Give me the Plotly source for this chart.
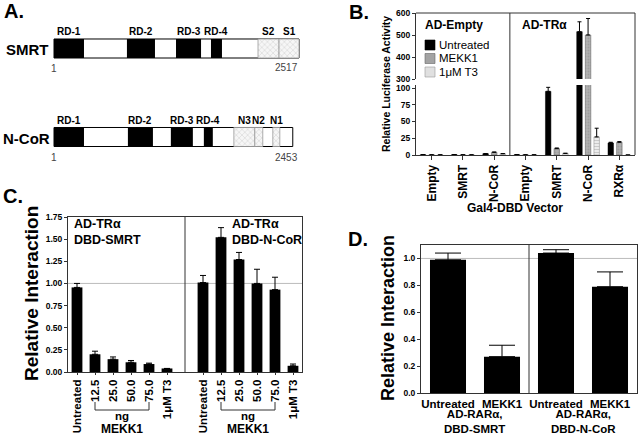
import plotly.graph_objects as go

# ---------------- DATA ----------------
# Panel A: protein domain maps (residue numbers)
smrt_len = 2517
ncor_len = 2453
rd_names = ["RD-1", "RD-2", "RD-3", "RD-4"]
smrt_rd_start = [1, 750, 1254, 1613]
smrt_rd_end = [309, 1038, 1511, 1726]
smrt_s_names = ["S2", "S1"]
smrt_s_start = [2096, 2312]
smrt_s_end = [2312, 2517]
ncor_rd_start = [1, 760, 1201, 1540]
ncor_rd_end = [309, 1017, 1427, 1632]
ncor_n_names = ["N3", "N2", "N1"]
ncor_n_start = [1848, 2063, 2248]
ncor_n_end = [2063, 2145, 2320]

# Panel B: relative luciferase activity
b_categories = ["Empty", "SMRT", "N-CoR", "Empty", "SMRT", "N-CoR", "RXRα"]
b_untreated = [0.5, 0.6, 2.0, 0.5, 95, 515, 18]
b_untreated_err = [0, 0, 0, 0, 6, 45, 1]
b_mekk1 = [0.3, 0.3, 4.0, 0.3, 9.5, 500, 19]
b_mekk1_err = [0, 0, 0.5, 0, 1, 75, 1]
b_t3 = [0.3, 0.3, 2.0, 0.3, 2.5, 27, 0]
b_t3_err = [0, 0, 0, 0, 0, 13, 0]
b_series = ["Untreated", "MEKK1", "1μM T3"]

# Panel C: relative interaction (AD-TRα)
c_labels = ["Untreated", "12.5", "25.0", "50.0", "75.0", "1μM T3"]
c_smrt = [0.955, 0.20, 0.145, 0.11, 0.09, 0.04]
c_smrt_err = [0.045, 0.035, 0.025, 0.02, 0.01, 0.0]
c_ncor = [1.01, 1.52, 1.27, 1.00, 0.93, 0.07]
c_ncor_err = [0.08, 0.11, 0.08, 0.16, 0.14, 0.02]

# Panel D: relative interaction (AD-RARα)
d_labels = ["Untreated", "MEKK1", "Untreated", "MEKK1"]
d_values = [0.99, 0.27, 1.04, 0.79]
d_err = [0.05, 0.085, 0.025, 0.11]
d_groups = ["AD-RARα,<br>DBD-SMRT", "AD-RARα,<br>DBD-N-CoR"]

# ---------------- HELPERS ----------------
W, H = 638, 435
def px(x):
    return x / W
def py(y):
    return 1 - y / H
FONT = "Arial, Liberation Sans, sans-serif"

def f(size, bold=True, color="black"):
    return dict(family=FONT, size=size, color=color, weight="bold" if bold else "normal")

fig = go.Figure()
annotations = []
shapes = []

def ann(text, x, y, size, bold=True, xanchor="center", yanchor="middle",
        xref="paper", yref="paper", angle=0, color="black", **kw):
    d = dict(text=text, x=x, y=y, xref=xref, yref=yref, showarrow=False,
             xanchor=xanchor, yanchor=yanchor, font=f(size, bold, color),
             textangle=angle)
    d.update(kw)
    annotations.append(d)

# ---------------- PANEL A ----------------
BH = 0.215
fig.add_trace(go.Bar(orientation="h", y=[1, 0], x=[smrt_len - 1, ncor_len - 1], base=[1, 1],
                     width=BH, marker=dict(color="white", line=dict(color="black", width=1)),
                     xaxis="x", yaxis="y", showlegend=False, hoverinfo="skip"))
rd_start = smrt_rd_start + ncor_rd_start
rd_end = smrt_rd_end + ncor_rd_end
fig.add_trace(go.Bar(orientation="h", y=[1] * 4 + [0] * 4,
                     x=[e - s for s, e in zip(rd_start, rd_end)], base=rd_start,
                     width=BH, marker=dict(color="black", line=dict(width=0)),
                     xaxis="x", yaxis="y", showlegend=False, hoverinfo="skip"))
h_start = smrt_s_start + ncor_n_start
h_end = smrt_s_end + ncor_n_end
fig.add_trace(go.Bar(orientation="h", y=[1] * 2 + [0] * 3,
                     x=[e - s for s, e in zip(h_start, h_end)], base=h_start,
                     width=BH,
                     marker=dict(color="#f2f2f2",
                                 pattern=dict(shape="x", fgcolor="#aaaaaa", bgcolor="#f6f6f6",
                                              size=4, solidity=0.25),
                                 line=dict(color="#999999", width=0.8)),
                     xaxis="x", yaxis="y", showlegend=False, hoverinfo="skip"))

for names, st, en, row in [(rd_names, smrt_rd_start, smrt_rd_end, 1),
                           (smrt_s_names, smrt_s_start, smrt_s_end, 1),
                           (rd_names, ncor_rd_start, ncor_rd_end, 0),
                           (ncor_n_names, ncor_n_start, ncor_n_end, 0)]:
    for n, s, e in zip(names, st, en):
        ann(n, (s + e) / 2, row, 10, xref="x", yref="y", yshift=17)

ann("SMRT", px(51), py(49), 15, xanchor="right")
ann("N-CoR", px(52), py(138), 15, xanchor="right")
ann("1", 1, 1, 10, bold=False, xref="x", yref="y", yshift=-20, color="#444")
ann("1", 1, 0, 10, bold=False, xref="x", yref="y", yshift=-20, color="#444")
ann(str(smrt_len), px(300), py(68), 10, bold=False, xanchor="right", color="#444")
ann(str(ncor_len), px(300), py(157), 10, bold=False, xanchor="right", color="#444")

# ---------------- PANEL B ----------------
bx = list(range(len(b_categories)))
bw = 0.175
b_offsets = [-0.3625, -0.0875, 0.1875]
b_styles = [
    dict(color="black", line=dict(color="black", width=0.5)),
    dict(color="#a3a3a3", pattern=dict(shape=".", fgcolor="#8a8a8a", bgcolor="#b0b0b0", size=3, solidity=0.3),
         line=dict(color="#666", width=0.6)),
    dict(color="#e8e8e8", pattern=dict(shape="-", fgcolor="#a8a8a8", bgcolor="#ececec", size=3, solidity=0.35),
         line=dict(color="#999", width=0.6)),
]
b_vals = [b_untreated, b_mekk1, b_t3]
b_errs = [b_untreated_err, b_mekk1_err, b_t3_err]
for ya in ["y2", "y3"]:
    for name, vals, errs, off, sty in zip(b_series, b_vals, b_errs, b_offsets, b_styles):
        fig.add_trace(go.Bar(x=bx, y=vals, name=name, width=bw, offset=off, marker=sty,
                             error_y=dict(type="data", array=errs, arrayminus=[0] * len(errs),
                                          symmetric=False, color="black", thickness=1, width=2,
                                          visible=True),
                             xaxis="x2", yaxis=ya, showlegend=False, hoverinfo="skip"))

# frame & divider
shapes.append(dict(type="line", xref="x2 domain", yref="paper", x0=0, x1=1, y0=py(13), y1=py(13),
                   line=dict(color="#333", width=1)))
shapes.append(dict(type="line", xref="x2 domain", yref="paper", x0=1, x1=1, y0=py(13), y1=py(155),
                   line=dict(color="#333", width=1)))
shapes.append(dict(type="line", xref="x2", yref="paper", x0=2.5, x1=2.5, y0=py(13), y1=py(155),
                   line=dict(color="#333", width=1)))
ann("AD-Empty", px(423), py(25), 12, xanchor="left")
ann("AD-TRα", px(520), py(25), 12, xanchor="left")
# legend
leg_fill = ["black", "#a3a3a3", "#e0e0e0"]
leg_line = ["black", "#666", "#999"]
for i, (name, fc, lc) in enumerate(zip(b_series, leg_fill, leg_line)):
    yc = 45 + i * 13.5
    shapes.append(dict(type="rect", xref="paper", yref="paper", x0=px(425), x1=px(435),
                       y0=py(yc - 5), y1=py(yc + 5), fillcolor=fc, line=dict(color=lc, width=0.6)))
    ann(name, px(437), py(yc), 11.5, bold=False, xanchor="left")
ann("Relative Luciferase Activity", px(386), py(84), 10.5, angle=-90)
ann("Gal4-DBD Vector", px(515), py(208), 12)

# ---------------- PANEL C ----------------
cx_left = list(range(len(c_labels)))
cx_right = [i + len(c_labels) + 1 for i in range(len(c_labels))]
for xs, vals, errs in [(cx_left, c_smrt, c_smrt_err), (cx_right, c_ncor, c_ncor_err)]:
    fig.add_trace(go.Bar(x=xs, y=vals, width=0.6, marker=dict(color="black", line=dict(width=0)),
                         error_y=dict(type="data", array=errs, arrayminus=[0] * len(errs),
                                      symmetric=False, color="black", thickness=1, width=3),
                         xaxis="x3", yaxis="y4", showlegend=False, hoverinfo="skip"))
shapes.append(dict(type="line", xref="x3 domain", yref="y4", x0=0, x1=1, y0=1, y1=1,
                   line=dict(color="#bbbbbb", width=1), layer="below"))
shapes.append(dict(type="line", xref="x3", yref="y4 domain", x0=6, x1=6, y0=0, y1=1,
                   line=dict(color="#333", width=1)))
for xs in [cx_left, cx_right]:
    a, b = xs[1], xs[4]
    shapes.append(dict(type="path", xref="x3", yref="paper",
                       path=f"M {a},{py(402)} L {a},{py(410)} L {b},{py(410)} L {b},{py(402)}",
                       line=dict(color="#333", width=1)))
    ann("ng", (a + b) / 2, py(415.5), 11.5, xref="x3")
    ann("MEKK1", (a + b) / 2, py(428.5), 12, xref="x3")
ann("AD-TRα<br>DBD-SMRT", px(72), py(232), 12.5, xanchor="left", align="left")
ann("AD-TRα<br>DBD-N-CoR", px(230), py(232), 12.5, xanchor="left", align="left")
ann("Relative Interaction", px(31), py(294), 19, angle=-90)

# ---------------- PANEL D ----------------
dx = list(range(len(d_labels)))
fig.add_trace(go.Bar(x=dx, y=d_values, width=0.667, marker=dict(color="black", line=dict(width=0)),
                     error_y=dict(type="data", array=d_err, arrayminus=[0] * len(d_err),
                                  symmetric=False, color="black", thickness=1, width=13),
                     xaxis="x4", yaxis="y5", showlegend=False, hoverinfo="skip"))
shapes.append(dict(type="line", xref="x4 domain", yref="y5", x0=0, x1=1, y0=1, y1=1,
                   line=dict(color="#bbbbbb", width=1), layer="below"))
shapes.append(dict(type="line", xref="x4", yref="y5 domain", x0=1.5, x1=1.5, y0=0, y1=1,
                   line=dict(color="#333", width=1)))
for i, g in enumerate(d_groups):
    ann(g, 2 * i + 0.5, py(421), 11.5, xref="x4")
ann("Relative Interaction", px(388), py(318), 18, angle=-90)

# panel letters
ann("A.", px(2), py(11), 20, xanchor="left")
ann("B.", px(347), py(12), 20, xanchor="left")
ann("C.", px(1), py(196), 20, xanchor="left")
ann("D.", px(346), py(239), 20, xanchor="left")

# ---------------- LAYOUT ----------------
hidden = dict(showgrid=False, zeroline=False, showticklabels=False, showline=False, ticks="",
              automargin=False, fixedrange=True)
yt = dict(showgrid=False, zeroline=False, showline=True, linecolor="#333", linewidth=1,
          ticks="outside", ticklen=3, tickcolor="#333", tickfont=f(8.5), automargin=False)

fig.update_layout(
    width=W, height=H, margin=dict(l=0, r=0, t=0, b=0),
    paper_bgcolor="white", plot_bgcolor="white",
    barmode="overlay", showlegend=False,
    font=dict(family=FONT, color="black"),
    xaxis=dict(domain=[px(44), px(309)], range=[-101.7, 2619.7], anchor="y", **hidden),
    yaxis=dict(domain=[py(163.55), py(21.95)], range=[-0.3, 1.3], anchor="x", **hidden),
    # Panel B
    xaxis2=dict(domain=[px(416), px(635)], range=[-0.5, 6.5], anchor="y2",
                tickmode="array", tickvals=bx, ticktext=b_categories, tickangle=-90,
                showgrid=False, zeroline=False, showline=True, linecolor="#333", linewidth=1,
                ticks="outside", ticklen=4, tickcolor="#333", tickfont=f(12), automargin=False),
    yaxis2=dict(domain=[py(155), py(85)], range=[0, 104.5], anchor="x2",
                tickmode="array", tickvals=[0, 25, 50, 75, 100], **yt),
    yaxis3=dict(domain=[py(79), py(13)], range=[300, 600], anchor="x2",
                tickmode="array", tickvals=[300, 400, 500, 600], **yt),
    # Panel C
    xaxis3=dict(domain=[px(68), px(302)], range=[-0.5, 12.5], anchor="y4",
                tickmode="array", tickvals=cx_left + cx_right, ticktext=c_labels + c_labels,
                tickangle=-90, showgrid=False, zeroline=False, showline=True, mirror=True,
                linecolor="#333", linewidth=1, ticks="outside", ticklen=2, tickcolor="#333",
                tickfont=f(11.5), automargin=False),
    yaxis4=dict(domain=[py(372), py(217)], range=[0, 1.75], anchor="x3", mirror=True,
                tickmode="array", tickvals=[0, 0.25, 0.5, 0.75, 1.0, 1.25, 1.5, 1.75],
                tickformat=".2f", **yt),
    # Panel D
    xaxis4=dict(domain=[px(421), px(637)], range=[-0.5, 3.5], anchor="y5",
                tickmode="array", tickvals=dx, ticktext=d_labels, tickangle=0,
                showgrid=False, zeroline=False, showline=True, mirror=True,
                linecolor="#333", linewidth=1, ticks="", tickfont=f(11.5), automargin=False),
    yaxis5=dict(domain=[py(393), py(245)], range=[0, 1.1], anchor="x4", mirror=True,
                tickmode="array", tickvals=[0, 0.2, 0.4, 0.6, 0.8, 1.0],
                tickformat=".1f", **yt),
    annotations=annotations,
    shapes=shapes,
)

fig.write_html("out.html", config={"displayModeBar": False},
               post_script="document.body.style.margin='0px';")
